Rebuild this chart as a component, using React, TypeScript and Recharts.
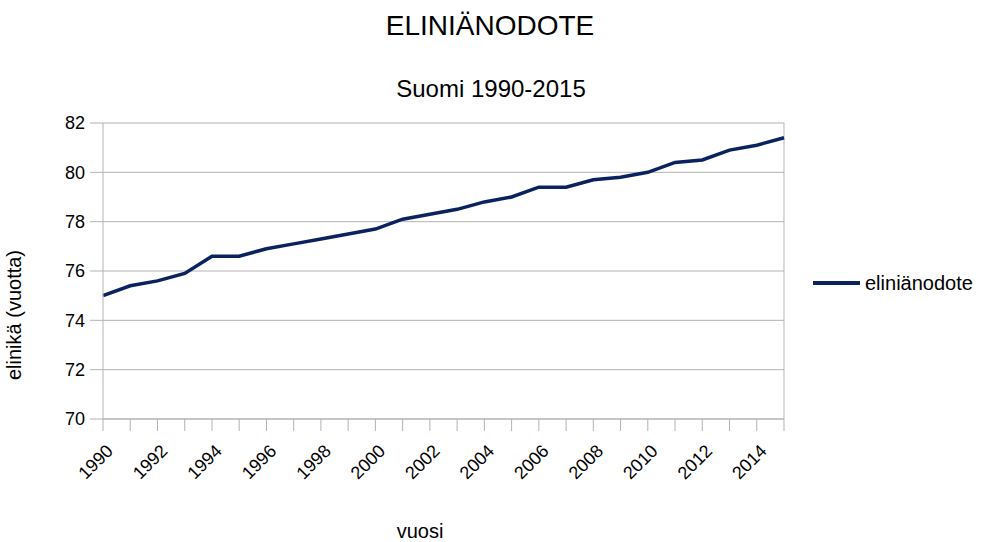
import { CartesianGrid, Line, LineChart, ReferenceLine, XAxis, YAxis } from 'recharts'

const years = [1990, 1991, 1992, 1993, 1994, 1995, 1996, 1997, 1998, 1999, 2000, 2001, 2002,
  2003, 2004, 2005, 2006, 2007, 2008, 2009, 2010, 2011, 2012, 2013, 2014, 2015]
const lifeExpectancy = [75.0, 75.4, 75.6, 75.9, 76.6, 76.6, 76.9, 77.1, 77.3, 77.5, 77.7, 78.1, 78.3,
  78.5, 78.8, 79.0, 79.4, 79.4, 79.7, 79.8, 80.0, 80.4, 80.5, 80.9, 81.1, 81.4]
const yTicks = [70, 72, 74, 76, 78, 80, 82]

const data = years.map((y, i) => ({ year: y, value: lifeExpectancy[i] }))

const FONT = '"Liberation Sans", Arial, sans-serif'
const GRID = '#b3b3b3'
const LINE = '#0b2260'

function YearTick(props: any) {
  const { x, y, payload } = props
  if (payload.value % 2 !== 0) return null
  const ax = x + 2
  const ay = y + 10
  return (
    <text x={ax} y={ay} transform={`rotate(-45, ${ax}, ${ay})`} textAnchor="end"
      fontSize={18} fontFamily={FONT} fill="#000" dominantBaseline="hanging">
      {payload.value}
    </text>
  )
}

export default function App() {
  return (
    <div style={{ position: 'absolute', left: 0, top: 0, width: 989, height: 542, background: '#fff', fontFamily: FONT }}>
      <div style={{ position: 'absolute', top: 10, left: 0, width: 980, textAlign: 'center', fontSize: 28 }}>ELINIÄNODOTE</div>
      <div style={{ position: 'absolute', top: 75, left: 0, width: 982, textAlign: 'center', fontSize: 24 }}>Suomi 1990-2015</div>
      <div style={{ position: 'absolute', top: 520, left: 380, width: 80, textAlign: 'center', fontSize: 20 }}>vuosi</div>
      <div style={{
        position: 'absolute', left: 14, top: 315, fontSize: 20, whiteSpace: 'nowrap',
        transform: 'translate(-50%, -50%) rotate(-90deg)',
      }}>elinikä (vuotta)</div>
      <div style={{ position: 'absolute', left: 813, top: 270 }}>
        <svg width={176} height={26}>
          <line x1={0} y1={13} x2={47} y2={13} stroke={LINE} strokeWidth={4} />
          <text x={52} y={20} fontSize={20} fontFamily={FONT} fill="#000">eliniänodote</text>
        </svg>
      </div>
      <LineChart width={989} height={542} data={data} margin={{ top: 123, right: 205, bottom: 122, left: 102 }}>
        <CartesianGrid stroke={GRID} vertical={false} />
        <XAxis dataKey="year" type="number" domain={[1990, 2015]} ticks={years} interval={0}
          tick={<YearTick />} tickSize={12} tickLine={{ stroke: GRID }} axisLine={{ stroke: GRID }} height={1} />
        <YAxis domain={[70, 82]} ticks={yTicks} interval={0} tickSize={13} tickMargin={5} width={1}
          tick={{ fontSize: 18, fontFamily: FONT, fill: '#000' }}
          tickLine={{ stroke: GRID }} axisLine={{ stroke: GRID }} />
        <ReferenceLine x={2015} stroke={GRID} />
        <Line type="linear" dataKey="value" name="eliniänodote" stroke={LINE} strokeWidth={3.5}
          dot={false} isAnimationActive={false} />
      </LineChart>
    </div>
  )
}
